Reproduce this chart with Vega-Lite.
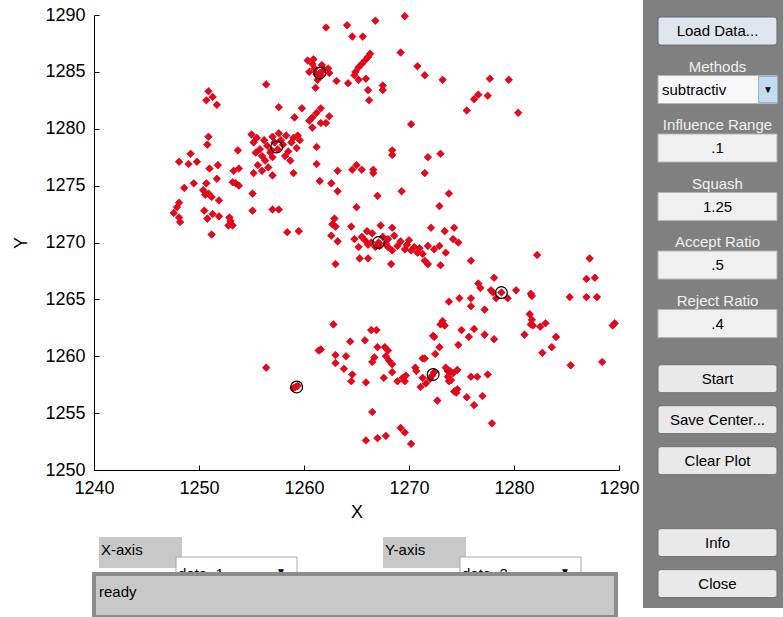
{
  "$schema": "https://vega.github.io/schema/vega-lite/v6.json",
  "padding": {"left": 12, "top": 0, "right": 0, "bottom": 0},
  "background": "white",
  "config": {
    "view": {"stroke": null},
    "font": "Liberation Sans",
    "axis": {"grid": false, "domainColor": "#000000", "tickColor": "#000000", "labelColor": "#000000", "titleColor": "#000000", "labelFont": "Liberation Sans", "titleFont": "Liberation Sans"}
  },
  "datasets": {
    "pts": [
      {"x":1256.4,"y":1283.9},{"x":1250.9,"y":1283.3},{"x":1250.7,"y":1282.5},{"x":1251.3,"y":1282.8},{"x":1251.7,"y":1282.1},{"x":1250.9,"y":1279.3},{"x":1250.8,"y":1278.6},{"x":1255.0,"y":1279.5},{"x":1253.7,"y":1278.1},{"x":1249.2,"y":1277.8},{"x":1248.1,"y":1277.1},{"x":1249.0,"y":1276.9},{"x":1249.8,"y":1277.1},{"x":1251.0,"y":1276.5},{"x":1251.8,"y":1276.8},{"x":1251.7,"y":1275.6},{"x":1253.3,"y":1276.3},{"x":1253.8,"y":1276.5},{"x":1253.5,"y":1275.2},{"x":1253.2,"y":1275.3},{"x":1253.8,"y":1275.0},{"x":1249.5,"y":1275.2},{"x":1248.6,"y":1274.8},{"x":1250.7,"y":1275.2},{"x":1250.4,"y":1274.6},{"x":1250.9,"y":1274.3},{"x":1251.2,"y":1274.0},{"x":1250.6,"y":1274.2},{"x":1251.9,"y":1273.7},{"x":1255.1,"y":1274.3},{"x":1255.1,"y":1272.8},{"x":1257.0,"y":1272.9},{"x":1248.1,"y":1273.5},{"x":1247.9,"y":1273.1},{"x":1247.6,"y":1272.6},{"x":1248.1,"y":1272.2},{"x":1248.2,"y":1271.8},{"x":1250.5,"y":1272.8},{"x":1250.8,"y":1272.1},{"x":1251.3,"y":1272.5},{"x":1251.9,"y":1272.3},{"x":1252.9,"y":1272.2},{"x":1253.2,"y":1271.5},{"x":1252.8,"y":1271.5},{"x":1253.0,"y":1271.9},{"x":1251.2,"y":1270.7},
      {"x":1255.2,"y":1278.8},{"x":1255.5,"y":1279.2},{"x":1255.8,"y":1278.2},{"x":1256.0,"y":1277.6},{"x":1256.2,"y":1279.0},{"x":1256.5,"y":1278.5},{"x":1256.8,"y":1277.9},{"x":1257.0,"y":1279.3},{"x":1257.2,"y":1278.8},{"x":1257.5,"y":1278.2},{"x":1257.8,"y":1279.0},{"x":1258.0,"y":1278.6},{"x":1258.3,"y":1279.4},{"x":1258.5,"y":1278.0},{"x":1258.8,"y":1278.8},{"x":1259.0,"y":1279.2},{"x":1256.3,"y":1277.2},{"x":1255.6,"y":1276.8},{"x":1256.0,"y":1276.3},{"x":1255.4,"y":1277.9},{"x":1257.0,"y":1277.5},{"x":1258.2,"y":1277.6},{"x":1258.7,"y":1277.2},{"x":1256.6,"y":1276.6},{"x":1255.2,"y":1276.1},{"x":1259.3,"y":1278.3},{"x":1257.6,"y":1279.6},{"x":1256.9,"y":1278.1},
      {"x":1269.6,"y":1289.9},{"x":1266.8,"y":1289.5},{"x":1262.1,"y":1288.9},{"x":1264.1,"y":1289.1},{"x":1264.6,"y":1288.1},{"x":1265.6,"y":1288.1},{"x":1269.2,"y":1286.7},{"x":1270.8,"y":1285.5},{"x":1271.5,"y":1284.7},{"x":1273.2,"y":1284.3},
      {"x":1260.35,"y":1286.0},{"x":1260.8,"y":1285.7},{"x":1260.5,"y":1285.0},{"x":1261.0,"y":1285.3},{"x":1261.9,"y":1285.2},{"x":1262.4,"y":1284.9},{"x":1261.3,"y":1284.3},{"x":1261.1,"y":1283.6},{"x":1261.6,"y":1284.7},{"x":1262.3,"y":1285.3},{"x":1261.5,"y":1284.9},{"x":1261.2,"y":1284.8},{"x":1260.9,"y":1286.1},{"x":1261.7,"y":1285.6},
      {"x":1264.9,"y":1285.0},{"x":1265.2,"y":1285.4},{"x":1265.5,"y":1285.7},{"x":1265.8,"y":1286.0},{"x":1266.1,"y":1286.3},{"x":1266.3,"y":1286.6},
      {"x":1264.8,"y":1284.7},{"x":1265.2,"y":1284.3},{"x":1265.9,"y":1284.4},{"x":1263.1,"y":1284.2},{"x":1264.2,"y":1284.0},{"x":1266.1,"y":1283.4},{"x":1266.2,"y":1282.5},{"x":1267.5,"y":1283.8},{"x":1267.5,"y":1283.4},
      {"x":1257.6,"y":1281.9},{"x":1259.8,"y":1281.8},{"x":1259.1,"y":1281.0},{"x":1260.8,"y":1281.0},{"x":1261.2,"y":1281.4},{"x":1261.6,"y":1281.8},{"x":1260.5,"y":1280.7},{"x":1262.4,"y":1281.1},{"x":1261.6,"y":1280.5},{"x":1262.1,"y":1280.5},{"x":1260.8,"y":1280.1},
      {"x":1270.2,"y":1280.4},{"x":1261.2,"y":1278.4},{"x":1259.4,"y":1279.4},{"x":1259.6,"y":1279.0},{"x":1268.4,"y":1278.1},{"x":1268.4,"y":1277.7},{"x":1271.8,"y":1277.5},{"x":1273.0,"y":1277.8},
      {"x":1261.2,"y":1276.9},{"x":1263.2,"y":1276.3},{"x":1264.6,"y":1276.4},{"x":1265.0,"y":1276.8},{"x":1265.5,"y":1276.4},{"x":1266.6,"y":1276.4},{"x":1266.6,"y":1276.1},{"x":1271.5,"y":1276.1},{"x":1259.0,"y":1276.1},{"x":1257.0,"y":1275.9},
      {"x":1261.5,"y":1275.4},{"x":1262.6,"y":1275.2},{"x":1263.2,"y":1274.5},{"x":1267.0,"y":1274.1},{"x":1269.3,"y":1274.5},{"x":1273.8,"y":1274.3},{"x":1265.0,"y":1273.1},{"x":1272.9,"y":1273.2},{"x":1257.6,"y":1272.9},
      {"x":1262.9,"y":1272.1},{"x":1262.7,"y":1271.6},{"x":1263.0,"y":1271.4},{"x":1264.5,"y":1271.4},{"x":1258.4,"y":1270.9},{"x":1259.5,"y":1271.0},{"x":1262.6,"y":1270.6},{"x":1267.3,"y":1271.5},{"x":1268.4,"y":1271.3},{"x":1272.1,"y":1271.3},{"x":1273.4,"y":1271.0},
      {"x":1277.7,"y":1284.4},{"x":1279.5,"y":1284.3},{"x":1276.6,"y":1283.0},{"x":1276.2,"y":1282.6},{"x":1277.5,"y":1282.9},{"x":1275.5,"y":1281.6},{"x":1280.4,"y":1281.4},{"x":1274.3,"y":1271.3},{"x":1274.2,"y":1270.3},{"x":1274.7,"y":1270.0},
      {"x":1263.2,"y":1270.1},{"x":1266.1,"y":1269.8},{"x":1268.0,"y":1269.6},{"x":1268.9,"y":1269.7},{"x":1269.6,"y":1269.4},{"x":1270.2,"y":1269.3},{"x":1270.8,"y":1269.1},{"x":1271.3,"y":1269.0},{"x":1271.8,"y":1269.7},{"x":1263.0,"y":1268.1},{"x":1265.3,"y":1268.6},{"x":1266.1,"y":1268.6},{"x":1268.3,"y":1268.1},{"x":1271.5,"y":1268.4},{"x":1271.8,"y":1268.1},{"x":1273.0,"y":1268.0},
      {"x":1265.5,"y":1270.5},{"x":1266.0,"y":1271.0},{"x":1266.5,"y":1270.8},{"x":1267.5,"y":1270.5},{"x":1268.0,"y":1270.3},{"x":1267.8,"y":1269.9},{"x":1266.8,"y":1269.6},{"x":1265.8,"y":1270.2},{"x":1268.6,"y":1270.6},{"x":1269.2,"y":1270.1},{"x":1269.8,"y":1269.8},{"x":1270.5,"y":1269.6},{"x":1264.8,"y":1270.3},{"x":1265.2,"y":1269.6},{"x":1266.4,"y":1270.0},{"x":1267.2,"y":1269.7},{"x":1268.4,"y":1269.3},{"x":1270.0,"y":1270.2},{"x":1271.0,"y":1269.5},{"x":1272.4,"y":1269.4},{"x":1272.9,"y":1269.7},{"x":1273.5,"y":1269.1},{"x":1267.1,"y":1270.0},
      {"x":1273.8,"y":1264.8},{"x":1273.2,"y":1263.1},{"x":1273.4,"y":1262.7},{"x":1273.0,"y":1262.8},{"x":1262.8,"y":1262.8},{"x":1266.4,"y":1262.3},{"x":1266.9,"y":1262.3},{"x":1272.3,"y":1261.8},{"x":1272.4,"y":1261.7},{"x":1261.6,"y":1260.6},{"x":1261.4,"y":1260.5},{"x":1264.4,"y":1261.3},{"x":1265.8,"y":1261.4},{"x":1272.9,"y":1260.8},{"x":1263.0,"y":1260.1},{"x":1263.0,"y":1259.4},{"x":1264.0,"y":1260.0},{"x":1267.0,"y":1260.8},{"x":1267.7,"y":1260.8},{"x":1268.0,"y":1260.5},{"x":1267.8,"y":1260.0},{"x":1268.1,"y":1259.6},{"x":1268.4,"y":1259.3},{"x":1266.7,"y":1259.9},{"x":1266.5,"y":1259.5},{"x":1272.5,"y":1260.2},{"x":1271.3,"y":1259.8},{"x":1271.5,"y":1259.8},{"x":1263.8,"y":1258.9},{"x":1264.6,"y":1258.4},{"x":1264.5,"y":1257.8},{"x":1265.9,"y":1257.7},{"x":1267.6,"y":1258.1},{"x":1268.4,"y":1258.6},{"x":1268.9,"y":1257.8},{"x":1269.4,"y":1258.1},{"x":1269.7,"y":1258.3},{"x":1269.6,"y":1257.8},{"x":1270.6,"y":1259.0},{"x":1270.7,"y":1258.7},{"x":1271.3,"y":1258.1},{"x":1272.2,"y":1258.3},{"x":1272.4,"y":1258.6},{"x":1272.0,"y":1258.0},{"x":1271.1,"y":1257.3},{"x":1271.6,"y":1257.6},{"x":1273.7,"y":1258.7},{"x":1273.8,"y":1257.8},{"x":1272.7,"y":1256.1},{"x":1259.2,"y":1257.3},{"x":1259.4,"y":1257.4},{"x":1259.0,"y":1257.2},{"x":1266.5,"y":1255.1},{"x":1269.2,"y":1253.7},{"x":1269.6,"y":1253.3},{"x":1267.8,"y":1253.0},{"x":1267.0,"y":1252.8},{"x":1265.9,"y":1252.6},{"x":1270.2,"y":1252.3},{"x":1256.4,"y":1259.0},
      {"x":1282.2,"y":1268.9},{"x":1287.2,"y":1268.6},{"x":1286.9,"y":1266.8},{"x":1287.7,"y":1266.9},{"x":1275.9,"y":1268.4},{"x":1278.1,"y":1266.9},{"x":1276.6,"y":1266.4},{"x":1276.8,"y":1266.0},{"x":1278.8,"y":1265.6},{"x":1277.8,"y":1265.8},{"x":1278.0,"y":1265.6},{"x":1278.3,"y":1265.1},{"x":1279.4,"y":1265.1},{"x":1280.2,"y":1265.8},{"x":1281.7,"y":1265.3},{"x":1281.6,"y":1265.5},{"x":1285.3,"y":1265.2},{"x":1286.9,"y":1265.2},{"x":1287.9,"y":1265.2},{"x":1274.8,"y":1265.1},{"x":1275.9,"y":1265.1},{"x":1275.9,"y":1264.4},{"x":1277.2,"y":1264.1},{"x":1281.5,"y":1263.7},{"x":1281.7,"y":1263.2},{"x":1281.8,"y":1262.7},{"x":1281.6,"y":1262.8},{"x":1282.5,"y":1262.6},{"x":1283.0,"y":1262.9},{"x":1289.6,"y":1262.9},{"x":1289.4,"y":1262.7},{"x":1275.0,"y":1262.3},{"x":1276.2,"y":1262.4},{"x":1275.7,"y":1261.7},{"x":1277.2,"y":1261.9},{"x":1278.1,"y":1261.5},{"x":1281.0,"y":1261.9},{"x":1284.0,"y":1261.7},{"x":1283.6,"y":1260.8},{"x":1282.7,"y":1260.3},{"x":1274.7,"y":1261.0},{"x":1285.4,"y":1259.2},{"x":1288.4,"y":1259.5},{"x":1273.5,"y":1259.0},{"x":1273.9,"y":1258.7},{"x":1274.2,"y":1258.5},{"x":1274.6,"y":1258.8},{"x":1273.7,"y":1258.2},{"x":1274.0,"y":1257.9},{"x":1275.9,"y":1258.2},{"x":1276.5,"y":1258.2},{"x":1277.5,"y":1258.4},{"x":1274.6,"y":1257.1},{"x":1274.5,"y":1256.8},{"x":1274.3,"y":1256.9},{"x":1275.5,"y":1256.4},{"x":1277.0,"y":1256.5},{"x":1276.2,"y":1255.7},{"x":1277.9,"y":1254.1}
    ],
    "centers": [
      {"x":1261.5,"y":1284.9},{"x":1257.4,"y":1278.4},{"x":1267.1,"y":1270.0},{"x":1278.8,"y":1265.6},{"x":1259.3,"y":1257.3},{"x":1272.3,"y":1258.4}
    ],
    "ctrl": [
      {"id":"Load Data...","kind":"button","label":"","value":"Load Data..."},
      {"id":"Methods","kind":"popup","label":"Methods","value":"subtractiv"},
      {"id":"Influence Range","kind":"edit","label":"Influence Range","value":".1"},
      {"id":"Squash","kind":"edit","label":"Squash","value":"1.25"},
      {"id":"Accept Ratio","kind":"edit","label":"Accept Ratio","value":".5"},
      {"id":"Reject Ratio","kind":"edit","label":"Reject Ratio","value":".4"}
    ],
    "btn": [
      {"id":"Start"},{"id":"Save Center..."},{"id":"Clear Plot"},{"id":"Info"},{"id":"Close"}
    ],
    "sel": [
      {"id":"X-axis","sel":"data_1"},{"id":"Y-axis","sel":"data_2"}
    ],
    "status": [
      {"msg":"ready"}
    ]
  },
  "bounds": "full",
  "spacing": 3,
  "hconcat": [
    {
      "bounds": "flush",
      "spacing": 5,
      "vconcat": [
        {"width": 525, "height": 10, "view": {"fill": "#ffffff", "stroke": null}, "data": {"values": []}, "mark": "point"},
        {
          "width": 525,
          "height": 455,
          "layer": [
            {
              "data": {"name": "pts"},
              "mark": {"type": "point", "shape": "diamond", "filled": true, "size": 58, "fill": "#f00014", "stroke": "#b4001c", "strokeWidth": 0.6, "opacity": 1},
              "encoding": {
                "x": {"field": "x", "type": "quantitative", "scale": {"domain": [1240, 1290], "nice": false, "zero": false},
                      "axis": {"title": "X", "values": [1240, 1250, 1260, 1270, 1280, 1290], "format": "d", "tickSize": -5, "labelPadding": 14, "titlePadding": 6, "labelFontSize": 18, "titleFontSize": 18, "titleFontWeight": "normal", "labelFlush": false, "labelOverlap": false, "domainWidth": 1, "tickWidth": 1}},
                "y": {"field": "y", "type": "quantitative", "scale": {"domain": [1250, 1290], "nice": false, "zero": false},
                      "axis": {"title": "Y", "values": [1250, 1255, 1260, 1265, 1270, 1275, 1280, 1285, 1290], "format": "d", "tickSize": -5, "labelPadding": 14, "titlePadding": 14, "labelFontSize": 18, "titleFontSize": 18, "titleFontWeight": "normal", "labelFlush": false, "labelOverlap": false, "domainWidth": 1, "tickWidth": 1}}
              }
            },
            {
              "data": {"name": "centers"},
              "mark": {"type": "point", "shape": "circle", "filled": false, "size": 140, "stroke": "#000000", "strokeWidth": 1.2, "opacity": 1},
              "encoding": {
                "x": {"field": "x", "type": "quantitative"},
                "y": {"field": "y", "type": "quantitative"}
              }
            }
          ]
        },
        {
          "width": 522,
          "height": 142,
          "layer": [
            {
              "data": {"name": "sel"},
              "encoding": {
                "x": {"field": "id", "type": "nominal", "scale": {"type": "band", "domain": ["X-axis", "Y-axis"], "paddingInner": 0.3063, "paddingOuter": 0.0722, "align": 0.122}, "axis": null},
                "y": {"datum": "sel", "type": "nominal", "scale": {"type": "band", "domain": ["sel", "status"], "paddingInner": 0, "paddingOuter": 0.651, "align": 1}, "axis": null}
              },
              "layer": [
                {"mark": {"type": "rect", "width": 83, "height": 31, "xOffset": -57, "fill": "#c8c8c8"}},
                {"mark": {"type": "text", "align": "left", "baseline": "middle", "dx": -96.5, "dy": -2.5, "fontSize": 15, "color": "#000000"}, "encoding": {"text": {"field": "id", "type": "nominal"}}},
                {"mark": {"type": "rect", "width": 121, "height": 28, "xOffset": 39, "yOffset": 18.5, "fill": "#ffffff", "stroke": "#a8a8a8"}},
                {"mark": {"type": "text", "align": "left", "baseline": "middle", "dx": -19.5, "dy": 22, "fontSize": 15, "color": "#000000"}, "encoding": {"text": {"field": "sel", "type": "nominal"}}},
                {"mark": {"type": "text", "text": "▼", "baseline": "middle", "dx": 83.5, "dy": 20, "fontSize": 10, "color": "#000000"}}
              ]
            },
            {
              "data": {"name": "status"},
              "encoding": {
                "y": {"datum": "status", "type": "nominal", "axis": null}
              },
              "layer": [
                {"mark": {"type": "rect", "fill": "#c8c8c8", "stroke": "#8c8c8c", "strokeWidth": 4}},
                {"mark": {"type": "text", "align": "left", "baseline": "middle", "dx": -98.5, "dy": -3.5, "fontSize": 15, "color": "#000000"},
                 "encoding": {"x": {"datum": "X-axis", "type": "nominal", "axis": null}, "text": {"field": "msg", "type": "nominal"}}}
              ]
            }
          ]
        }
      ]
    },
    {
      "width": 140,
      "height": 608,
      "view": {"fill": "#808080", "stroke": null},
      "resolve": {"scale": {"y": "independent"}},
      "layer": [
        {
          "data": {"name": "ctrl"},
          "encoding": {
            "x": {"datum": "w", "type": "nominal", "scale": {"type": "band", "domain": ["w"], "paddingInner": 0, "paddingOuter": 0.0882, "align": 0.714}, "axis": null},
            "y": {"field": "id", "type": "nominal", "scale": {"type": "band", "domain": ["Load Data...", "Methods", "Influence Range", "Squash", "Accept Ratio", "Reject Ratio", "_a", "_b", "_c", "_d"], "paddingInner": 0.52, "paddingOuter": 0.4565, "align": 0.318}, "axis": null}
          },
          "layer": [
            {"transform": [{"filter": "datum.kind === 'button'"}], "mark": {"type": "rect", "fill": "#dfe5ec", "stroke": "#5e6a74", "strokeWidth": 1, "cornerRadius": 3}},
            {"transform": [{"filter": "datum.kind === 'edit'"}], "mark": {"type": "rect", "fill": "#f0f0f0", "stroke": "#b4b4b4", "strokeWidth": 1}},
            {"transform": [{"filter": "datum.kind === 'popup'"}], "mark": {"type": "rect", "fill": "#f8f8f8", "stroke": "#b4b4b4", "strokeWidth": 1}},
            {"transform": [{"filter": "datum.kind === 'popup'"}], "mark": {"type": "rect", "width": 19, "height": 26, "xOffset": 50.5, "fill": "#c4dcf0", "stroke": "#8fb3d2"}},
            {"transform": [{"filter": "datum.kind === 'popup'"}], "mark": {"type": "text", "text": "▼", "baseline": "middle", "fontSize": 10, "dx": 50.5, "color": "#000000"}},
            {"transform": [{"filter": "datum.kind !== 'popup'"}], "mark": {"type": "text", "baseline": "middle", "fontSize": 15, "color": "#000000"}, "encoding": {"text": {"field": "value", "type": "nominal"}}},
            {"transform": [{"filter": "datum.kind === 'popup'"}], "mark": {"type": "text", "baseline": "middle", "align": "left", "dx": -55.5, "fontSize": 15, "color": "#000000"}, "encoding": {"text": {"field": "value", "type": "nominal"}}},
            {"transform": [{"filter": "datum.label !== ''"}], "mark": {"type": "text", "baseline": "middle", "dy": -23, "fontSize": 15, "color": "#f0f0f0"}, "encoding": {"text": {"field": "label", "type": "nominal"}}}
          ]
        },
        {
          "data": {"name": "btn"},
          "encoding": {
            "x": {"datum": "w", "type": "nominal", "scale": {"type": "band", "domain": ["w"], "paddingInner": 0, "paddingOuter": 0.0882, "align": 0.714}, "axis": null},
            "y": {"field": "id", "type": "nominal", "scale": {"type": "band", "domain": ["_1", "_2", "_3", "_4", "_5", "_6", "_7", "_8", "Start", "Save Center...", "Clear Plot", "_9", "Info", "Close"], "paddingInner": 0.317, "paddingOuter": 0.578, "align": 0.78}, "axis": null}
          },
          "layer": [
            {"mark": {"type": "rect", "fill": "#e9e9e9", "stroke": "#707070", "strokeWidth": 1, "cornerRadius": 3}},
            {"mark": {"type": "text", "baseline": "middle", "fontSize": 15, "color": "#000000"}, "encoding": {"text": {"field": "id", "type": "nominal"}}}
          ]
        }
      ]
    }
  ]
}
